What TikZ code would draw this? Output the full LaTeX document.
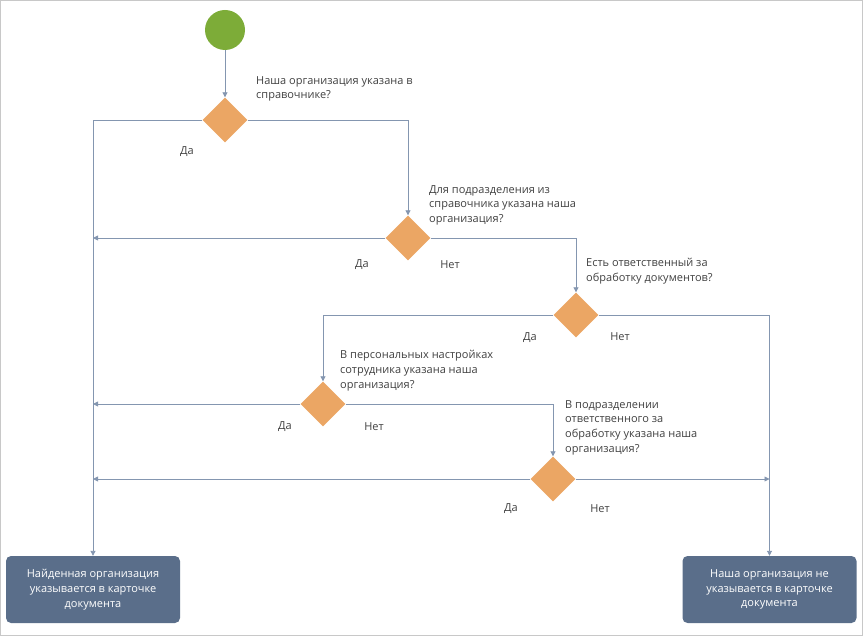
\documentclass[tikz,border=0pt]{standalone}
\usepackage{fontspec}
\setmainfont{Open Sans}
\usetikzlibrary{shapes.geometric,arrows.meta}
\definecolor{linegray}{RGB}{132,150,176}
\definecolor{decorange}{RGB}{235,166,100}
\definecolor{startgreen}{RGB}{125,172,56}
\definecolor{boxblue}{RGB}{90,110,138}
\definecolor{txtgray}{RGB}{64,64,64}
\definecolor{framegray}{RGB}{200,200,200}

\begin{document}
\begin{tikzpicture}[x=1pt,y=-1pt,
  dec/.style={diamond,fill=decorange,minimum width=45pt,minimum height=45pt,inner sep=0pt},
  flow/.style={draw=linegray,line width=0.9pt,-{Triangle[width=5pt,length=5pt]}},
  quest/.style={anchor=north west,align=left,inner sep=0pt,text=txtgray,font=\fontsize{11}{14.8}\selectfont},
  ans/.style={inner sep=0pt,text=txtgray,font=\fontsize{11}{14.8}\selectfont},
  endbox/.style={rounded corners=5pt,fill=boxblue,text=white,align=center,minimum width=174pt,minimum height=67pt,font=\fontsize{11}{14.8}\selectfont}]
\useasboundingbox (0,0) rectangle (863,636);
\draw[framegray] (0.5,0.5) rectangle (862.5,635.5);
% start and decisions
\node[circle,fill=startgreen,minimum size=40pt,inner sep=0pt] (start) at (225,30) {};
\node[dec] (d1) at (225,120) {};
\node[dec] (d2) at (408,238) {};
\node[dec] (d3) at (576,315) {};
\node[dec] (d4) at (323,404) {};
\node[dec] (d5) at (553,479) {};
% results
\node[endbox] (found) at (93,589.5) {Найденная организация\\указывается в карточке\\документа};
\node[endbox] (notfound) at (769.5,589.5) {Наша организация не\\указывается в карточке\\документа};
% questions
\node[quest] (q1) at (256,76) {Наша организация указана в\\справочнике?};
\node[quest] (q2) at (429,185) {Для подразделения из\\справочника указана наша\\организация?};
\node[quest] (q3) at (586,258) {Есть ответственный за\\обработку документов?};
\node[quest] (q4) at (340,350) {В персональных настройках\\сотрудника указана наша\\организация?};
\node[quest] (q5) at (565,400) {В подразделении\\ответственного за\\обработку указана наша\\организация?};
% answers
\node[ans] (y1) at (187,152) {Да};
\node[ans] (y2) at (362,265) {Да};
\node[ans] (n2) at (450,265) {Нет};
\node[ans] (y3) at (530,338) {Да};
\node[ans] (n3) at (620,337) {Нет};
\node[ans] (y4) at (285,427) {Да};
\node[ans] (n4) at (374,427) {Нет};
\node[ans] (y5) at (511,509) {Да};
\node[ans] (n5) at (600,509) {Нет};
% connectors
\draw[flow] (start) -- (d1);
\draw[flow] (d1.west) -| (found.north);
\draw[flow] (d1.east) -| (d2.north);
\draw[flow] (d2.west) -- (d2.west -| found.north);
\draw[flow] (d2.east) -| (d3.north);
\draw[flow] (d3.west) -| (d4.north);
\draw[flow] (d3.east) -| (notfound.north);
\draw[flow] (d4.west) -- (d4.west -| found.north);
\draw[flow] (d4.east) -| (d5.north);
\draw[flow] (d5.west) -- (d5.west -| found.north);
\draw[flow] (d5.east) -- (d5.east -| notfound.north);
\end{tikzpicture}
\end{document}
